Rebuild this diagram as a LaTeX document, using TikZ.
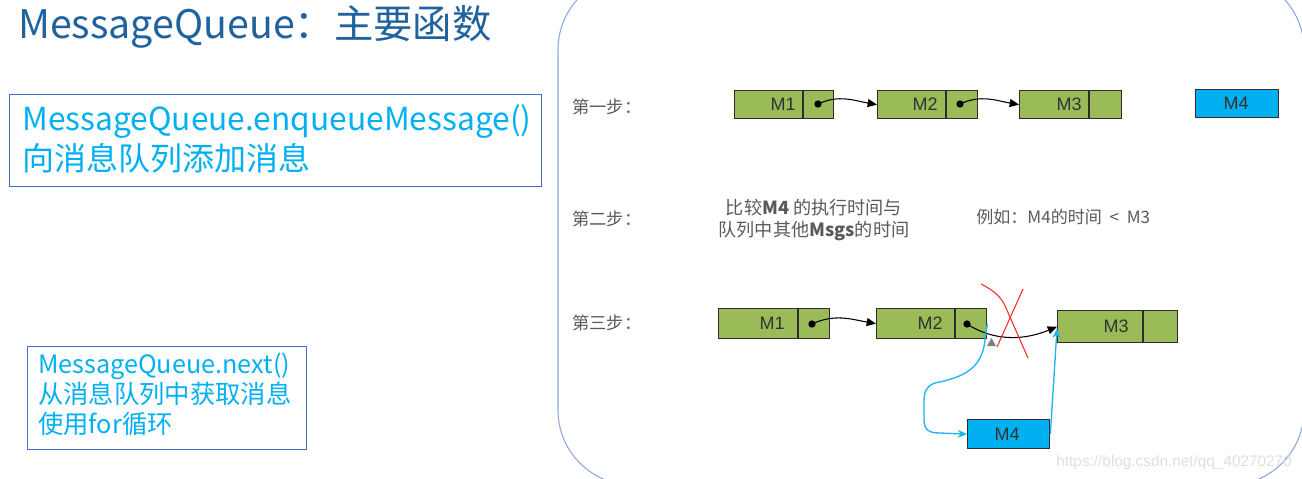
\documentclass[tikz,border=0pt]{standalone}
\usepackage{fontspec}
\setmainfont{Liberation Sans}
\newfontfamily\cjk{Noto Sans CJK SC}
\usetikzlibrary{arrows.meta,calc}
\definecolor{titleblue}{RGB}{31,98,158}
\definecolor{cyantext}{RGB}{0,176,240}
\definecolor{boxblue}{RGB}{68,114,196}
\definecolor{panelblue}{RGB}{140,168,222}
\definecolor{qgreen}{RGB}{155,187,89}
\definecolor{qborder}{RGB}{45,45,45}
\definecolor{qcyan}{RGB}{0,176,240}
\definecolor{labgray}{RGB}{50,50,50}
\definecolor{stepgray}{RGB}{90,90,90}
\definecolor{linkblue}{RGB}{30,180,240}
\definecolor{crossred}{RGB}{250,40,40}
\definecolor{wmgray}{RGB}{222,222,222}
\tikzset{
  qbox/.style={draw=qborder, fill=qgreen, line width=1pt, inner sep=0pt, anchor=north west},
  mbox/.style={draw=qborder, fill=qcyan, line width=1pt, inner sep=0pt, anchor=north west},
  qline/.style={draw=qborder, line width=1pt},
  mlab/.style={text=labgray, font=\fontsize{13.5}{16}\selectfont, inner sep=0pt},
  dotn/.style={circle, fill=black, inner sep=0pt, minimum size=5.5pt},
  ptr/.style={draw=black, line width=0.8pt, -{Triangle[length=7pt,width=6pt]}},
  lnk/.style={draw=linkblue, line width=1pt, -{Stealth[length=7pt,width=6pt]}},
  steptxt/.style={text=stepgray, font=\cjk\fontsize{13}{16}\selectfont, inner sep=0pt, anchor=west},
  infobox/.style={draw=boxblue, line width=0.8pt, inner sep=0pt, anchor=north west},
  infotxt/.style={text=cyantext, inner sep=0pt, anchor=base west},
}
\begin{document}
\begin{tikzpicture}[x=0.75pt,y=-0.75pt]
\useasboundingbox (0,0) rectangle (1302,478);
% right panel
\begin{scope}
\clip (0,0) rectangle (1302,478);
\draw[panelblue, line width=0.8pt, rounded corners=56pt] (558,-25) rectangle (1304,485);
\end{scope}
% title
\node[anchor=base west, text=titleblue, font=\cjk\fontsize{29.5}{34}\selectfont, inner sep=0pt] (title) at (18,39) {MessageQueue：主要函数};
% info box 1
\node[infobox, minimum width=399pt, minimum height=69pt] (box1) at (9,94) {};
\node[infotxt, font=\cjk\fontsize{23.8}{28}\selectfont] (b1l1) at (22,130) {MessageQueue.enqueueMessage()};
\node[infotxt, font=\cjk\fontsize{24}{28}\selectfont] (b1l2) at (22,170) {向消息队列添加消息};
% info box 2
\node[infobox, minimum width=209.25pt, minimum height=77.25pt] (box2) at (27,346) {};
\node[infotxt, font=\cjk\fontsize{18.9}{22}\selectfont] (b2l1) at (38,373) {MessageQueue.next()};
\node[infotxt, font=\cjk\fontsize{19}{22}\selectfont] (b2l2) at (38,403) {从消息队列中获取消息};
\node[infotxt, font=\cjk\fontsize{19}{22}\selectfont] (b2l3) at (38,433) {使用for循环};
% step labels
\node[steptxt] (s1) at (572,107) {第一步：};
\node[steptxt] (s2) at (572,219) {第二步：};
\node[steptxt] (s3) at (572,323) {第三步：};
% step 1 queue
\node[qbox, minimum width=74.25pt, minimum height=21pt] (a1) at (734,90) {};
\draw[qline] (803,90) -- (803,118);
\node[mlab] (a1t) at (783,104) {M1};
\node[dotn] (a1d) at (818,104) {};
\node[qbox, minimum width=75pt, minimum height=21pt] (a2) at (877,90) {};
\draw[qline] (946,90) -- (946,118);
\node[mlab] (a2t) at (925,104) {M2};
\node[dotn] (a2d) at (960,104) {};
\node[qbox, minimum width=76.5pt, minimum height=21pt] (a3) at (1019,90) {};
\draw[qline] (1089,90) -- (1089,118);
\node[mlab] (a3t) at (1069,104) {M3};
\node[mbox, minimum width=62.25pt, minimum height=21pt] (a4) at (1195,89) {};
\node[mlab] (a4t) at (1236,103) {M4};
\draw[ptr] (a1d.center) to[out=25,in=170] (a2.west);
\draw[ptr] (a2d.center) to[out=25,in=170] (a3.west);
% step 2 text
\node[text=stepgray, font=\cjk\fontsize{13.6}{17}\selectfont, align=center, inner sep=0pt] (cmp) at (814,220) {比较\textbf{M4} 的执行时间与\\队列中其他\textbf{Msgs}的时间};
\node[steptxt, font=\cjk\fontsize{12.8}{16}\selectfont] (ex) at (976,217) {例如：M4的时间 \ < \ M3};
% step 3 queue
\node[qbox, minimum width=83.25pt, minimum height=22.5pt] (b1) at (718,308) {};
\draw[qline] (798,308) -- (798,338);
\node[mlab] (b1t) at (772,323) {M1};
\node[dotn] (b1d) at (812,324) {};
\node[qbox, minimum width=82.5pt, minimum height=22.5pt] (b2) at (876,308) {};
\draw[qline] (955,308) -- (955,338);
\node[mlab] (b2t) at (930,323) {M2};
\node[dotn] (b2d) at (967,324) {};
\node[qbox, minimum width=90pt, minimum height=24pt] (b3) at (1057,310) {};
\draw[qline] (1143,310) -- (1143,342);
\node[mlab] (b3t) at (1116,326) {M3};
\node[mbox, minimum width=61.5pt, minimum height=21.75pt] (b4) at (967,419) {};
\node[mlab] (b4t) at (1007,434) {M4};
\draw[ptr] (b1d.center) to[out=25,in=170] (b2.west);
\draw[ptr] (b2d.center) .. controls (995,342) and (1025,340) .. (b3.west);
% red cross
\draw[crossred, line width=0.8pt] (981,284) .. controls (995,291) and (1002,298) .. (1006,308) -- (1028,358);
\draw[crossred, line width=0.8pt] (1023,289) -- (997,347);
% stray grey tip
\fill[gray] (987,346) -- (996,346) -- (991.5,338) -- cycle;
% blue links
\draw[lnk] (b2.east) -- (985,340) .. controls (982,372) and (958,378) .. (935,383) .. controls (926,386) and (924,392) .. (924,402) -- (924,420) .. controls (924,430) and (929,433) .. (940,433) -- (b4.west);
\draw[lnk] (b4.east) -- ($(b3.west)+(0,2)$);
% watermark
\node[anchor=base east, text=wmgray, font=\fontsize{11.5}{14}\selectfont, inner sep=0pt] (wm) at (1292,466) {https://blog.csdn.net/qq\_40270270};
\end{tikzpicture}
\end{document}
